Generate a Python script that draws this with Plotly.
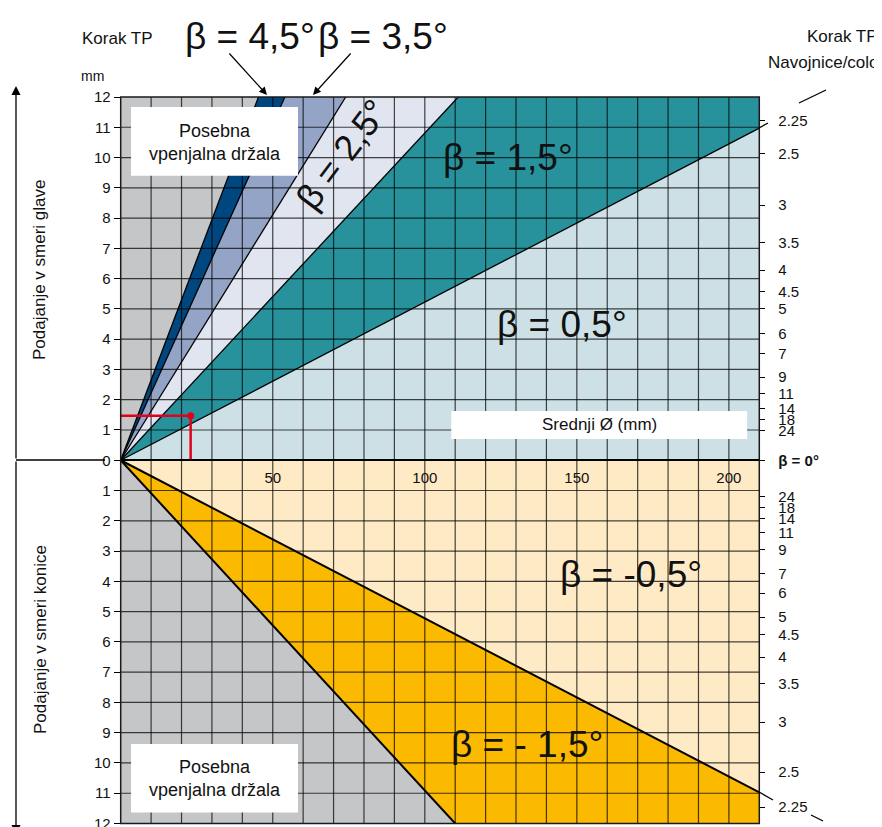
import plotly.graph_objects as go

W, H = 882, 827
FONT = "Liberation Sans, Arial, sans-serif"
OFF = 8  # the page body margin moves the figure 8 px right and down

# x = mean diameter (mm), y = offset (mm); upper half towards the head, lower towards the tip
X_MAX, Y_MAX = 210, 12

# boundary lines start at the origin and end on the frame at these points
upper_end_x = [45.3, 54.0, 74.0, 111.0, 210.0]
upper_end_y = [12.0, 12.0, 12.0, 12.0, 10.97]
upper_colors = ["#c5c6c8", "#00467f", "#93a4c6", "#e1e5f0", "#27929c", "#cde0e5"]

lower_end_x = [110.0, 210.0]
lower_end_y = [-12.0, -10.97]
lower_colors = ["#c5c6c8", "#fbb900", "#feeac5"]

left_ticks = list(range(-12, 13))
left_labels = [str(abs(v)) for v in left_ticks]

pitch_up = ["2.25", "2.5", "3", "3.5", "4", "4.5", "5", "6", "7", "9", "11", "14", "18", "24"]
pitch_up_pos = [11.22, 10.12, 8.43, 7.18, 6.28, 5.56, 5.01, 4.19, 3.53, 2.75, 2.20, 1.71, 1.35, 0.99]
pitch_down = ["24", "18", "14", "11", "9", "7", "6", "5", "4.5", "4", "3.5", "3", "2.5", "2.25"]
pitch_down_pos = [-1.19, -1.56, -1.93, -2.40, -2.95, -3.75, -4.39, -5.18, -5.76, -6.50, -7.38, -8.65, -10.30, -11.46]

diam_ticks = [50, 100, 150, 200]
example_x, example_y = 23, 1.47

# plot area in screen pixels of the reference
PX_L, PX_R, PX_T, PX_B = 120.7, 759.3, 97.0, 823.5


def px(x):
    return (x - OFF) / W


def py(y):
    return 1 - (y - OFF) / H


def wedge(a, b):
    xs, ys = [0, a[0]], [0, a[1]]
    # walk round the frame corner when the wedge spans it
    if abs(a[1]) == Y_MAX and a[0] < X_MAX and b[0] == X_MAX and abs(b[1]) < Y_MAX:
        xs.append(X_MAX)
        ys.append(Y_MAX if a[1] > 0 else -Y_MAX)
    xs += [b[0], 0]
    ys += [b[1], 0]
    return xs, ys


fig = go.Figure()

up_pts = [(0, Y_MAX)] + list(zip(upper_end_x, upper_end_y)) + [(X_MAX, 0)]
for i, col in enumerate(upper_colors):
    xs, ys = wedge(up_pts[i], up_pts[i + 1])
    fig.add_trace(go.Scatter(x=xs, y=ys, fill="toself", fillcolor=col, mode="lines",
                             line=dict(width=0), hoverinfo="skip"))

lo_pts = [(0, -Y_MAX)] + list(zip(lower_end_x, lower_end_y)) + [(X_MAX, 0)]
for i, col in enumerate(lower_colors):
    xs, ys = wedge(lo_pts[i], lo_pts[i + 1])
    fig.add_trace(go.Scatter(x=xs, y=ys, fill="toself", fillcolor=col, mode="lines",
                             line=dict(width=0), hoverinfo="skip"))

# grid drawn over the fills
gx, gy = [], []
for v in range(10, X_MAX, 10):
    gx += [v, v, None]
    gy += [-Y_MAX, Y_MAX, None]
for v in range(-Y_MAX + 1, Y_MAX):
    gx += [0, X_MAX, None]
    gy += [v, v, None]
fig.add_trace(go.Scatter(x=gx, y=gy, mode="lines", line=dict(color="rgba(0,0,0,0.72)", width=1.2),
                         hoverinfo="skip"))

# boundary lines
bx, by = [], []
for x, y in zip(upper_end_x, upper_end_y):
    bx += [0, x, None]
    by += [0, y, None]
fig.add_trace(go.Scatter(x=bx, y=by, mode="lines", line=dict(color="black", width=1.3), hoverinfo="skip"))
bx, by = [], []
for x, y in zip(lower_end_x, lower_end_y):
    bx += [0, x, None]
    by += [0, y, None]
fig.add_trace(go.Scatter(x=bx, y=by, mode="lines", line=dict(color="black", width=2), hoverinfo="skip"))

# worked example
fig.add_trace(go.Scatter(x=[0, example_x, example_x], y=[example_y, example_y, 0], mode="lines",
                         line=dict(color="#e2001a", width=2.5), hoverinfo="skip"))
fig.add_trace(go.Scatter(x=[example_x], y=[example_y], mode="markers",
                         marker=dict(color="#e2001a", size=7), hoverinfo="skip"))

# carrier for the right-hand pitch axis
fig.add_trace(go.Scatter(x=[None], y=[None], yaxis="y2", hoverinfo="skip"))

fig.update_layout(
    width=W, height=H,
    margin=dict(l=0, r=0, t=0, b=0, autoexpand=False),
    paper_bgcolor="white", plot_bgcolor="white",
    showlegend=False,
    font=dict(family=FONT, color="#111111"),
    xaxis=dict(
        domain=[px(PX_L), px(PX_R)], range=[0, X_MAX], anchor="free", position=py(460.25),
        showgrid=False, zeroline=False, showline=True, linecolor="black", linewidth=2,
        tickvals=diam_ticks, ticks="outside", ticklen=4, tickcolor="rgba(0,0,0,0)",
        tickfont=dict(size=15), automargin=False,
    ),
    yaxis=dict(
        domain=[py(PX_B), py(PX_T)], range=[-Y_MAX, Y_MAX], anchor="x",
        tickvals=left_ticks, ticktext=left_labels, ticks="outside", ticklen=6,
        tickcolor="black", tickwidth=1.2, showgrid=False, zeroline=False,
        tickfont=dict(size=15), automargin=False,
    ),
    yaxis2=dict(
        overlaying="y", side="right", anchor="x", range=[-Y_MAX, Y_MAX],
        tickvals=pitch_up_pos + [0] + pitch_down_pos,
        ticktext=pitch_up + ["<b>β = 0°</b>"] + pitch_down,
        ticks="outside", ticklen=5, tickcolor="black", tickwidth=1.2,
        ticklabelstandoff=10, showgrid=False, zeroline=False,
        tickfont=dict(size=15), automargin=False,
    ),
)

# frame
fig.add_shape(type="rect", xref="x domain", yref="y domain", x0=0, x1=1, y0=0, y1=1,
              line=dict(color="#1a1a1a", width=1.5), layer="above")

# white label boxes
for x0, x1, y0, y1 in [(3.4, 58.3, 9.4, 11.67), (3.4, 58.3, -11.64, -9.37), (108.7, 206.0, 0.70, 1.63)]:
    fig.add_shape(type="rect", x0=x0, x1=x1, y0=y0, y1=y1, fillcolor="white",
                  line=dict(width=0), layer="above")

# pitch line continuations outside the frame
for x0, y0, x1, y1 in [(759, 128, 768, 123), (799, 103, 826, 90), (759, 792, 773, 800), (811, 815, 823, 821)]:
    fig.add_shape(type="line", xref="paper", yref="paper", x0=px(x0), y0=py(y0), x1=px(x1), y1=py(y1),
                  line=dict(color="black", width=1.3))

# left direction arrow
fig.add_shape(type="line", xref="paper", yref="paper", x0=px(16), x1=px(105), y0=py(460), y1=py(460),
              line=dict(color="black", width=1.3))
for hy in [86, 834]:
    fig.add_annotation(x=px(16), y=py(hy), xref="paper", yref="paper", text="", showarrow=True,
                       ax=0, ay=460 - hy, arrowhead=2, arrowsize=1.4, arrowwidth=1.3, arrowcolor="black")

# arrows to the narrow bands
for hx, tx in [(267, 228), (313, 352)]:
    fig.add_annotation(x=px(hx), y=py(95), xref="paper", yref="paper", text="", showarrow=True,
                       ax=tx - hx, ay=52 - 95, arrowhead=2, arrowsize=1.3, arrowwidth=1.2, arrowcolor="black")


def ptext(t, x, y, size, xanchor="center", **kw):
    fig.add_annotation(x=px(x), y=py(y), xref="paper", yref="paper", text=t, showarrow=False,
                       xanchor=xanchor, yanchor="middle",
                       font=dict(size=size, family=FONT, color="#111111"), **kw)


def dtext(t, x, y, size, **kw):
    fig.add_annotation(x=x, y=y, text=t, showarrow=False, xanchor="center", yanchor="middle",
                       font=dict(size=size, family=FONT, color="#111111"), **kw)


ptext("Korak TP", 117, 38, 17)
ptext("mm", 92, 76, 14)
ptext("β = 4,5°", 250, 36, 37)
ptext("β = 3,5°", 383, 36, 37)
ptext("Korak TP", 880, 37, 17, xanchor="right")
ptext("Navojnice/colo", 766, 63, 17, xanchor="left")
ptext("Podajanje v smeri glave", 40, 270, 17, textangle=-90)
ptext("Podajanje v smeri konice", 40, 640, 17, textangle=-90)

dtext("Posebna<br>vpenjalna držala", 30.9, 10.5, 18)
dtext("Posebna<br>vpenjalna držala", 30.9, -10.5, 18)
dtext("Srednji Ø (mm)", 157.3, 1.17, 17)
dtext("β = 1,5°", 127.4, 10.0, 37)
dtext("β = 0,5°", 145.0, 4.47, 37)
dtext("β = -0,5°", 167.8, -3.79, 37)
dtext("β = - 1,5°", 133.6, -9.4, 37)
dtext("β = 2,5°", 72.7, 10.1, 36, textangle=-53)

fig.write_html("out.html")
